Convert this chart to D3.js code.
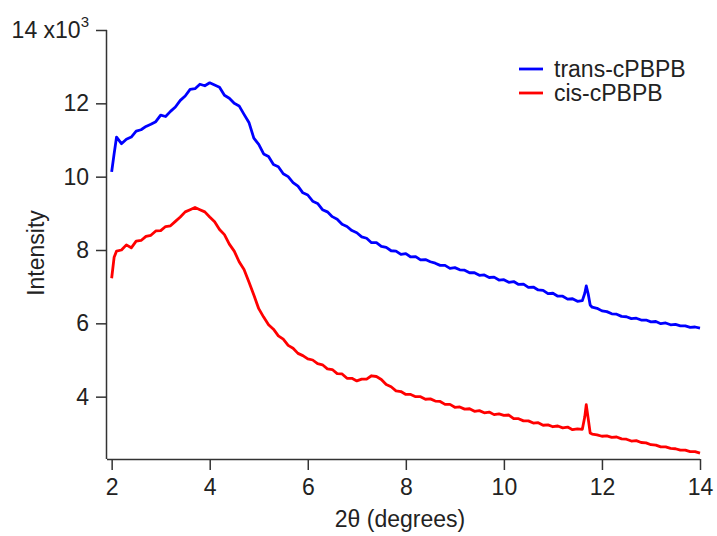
<!DOCTYPE html>
<html>
<head>
<meta charset="utf-8">
<script src="https://cdn.jsdelivr.net/npm/d3@7"></script>
<style>
  html, body { margin: 0; padding: 0; background: #fff; }
  svg { display: block; }
  text { font-family: "Liberation Sans", Arial, Helvetica, sans-serif; fill: #222; }
</style>
</head>
<body>
<svg id="chart" width="717" height="536"></svg>
<script>
// 2θ positions (degrees)
const twoTheta = [
  2.0, 2.05, 2.1, 2.2, 2.3, 2.4, 2.5, 2.6, 2.7, 2.8,
  2.9, 3.0, 3.1, 3.2, 3.3, 3.4, 3.5, 3.6, 3.7, 3.8,
  3.9, 4.0, 4.1, 4.2, 4.3, 4.4, 4.5, 4.6, 4.7, 4.8,
  4.9, 5.0, 5.1, 5.2, 5.3, 5.4, 5.5, 5.6, 5.7, 5.8,
  5.9, 6.0, 6.1, 6.2, 6.3, 6.4, 6.5, 6.6, 6.7, 6.8,
  6.9, 7.0, 7.1, 7.2, 7.3, 7.4, 7.5, 7.6, 7.7, 7.8,
  7.9, 8.0, 8.1, 8.2, 8.3, 8.4, 8.5, 8.6, 8.7, 8.8,
  8.9, 9.0, 9.1, 9.2, 9.3, 9.4, 9.5, 9.6, 9.7, 9.8,
  9.9, 10.0, 10.1, 10.2, 10.3, 10.4, 10.5, 10.6, 10.7, 10.8,
  10.9, 11.0, 11.1, 11.2, 11.3, 11.4, 11.5, 11.6, 11.65, 11.68,
  11.72, 11.76, 11.8, 11.9, 12.0, 12.1, 12.2, 12.3, 12.4, 12.5,
  12.6, 12.7, 12.8, 12.9, 13.0, 13.1, 13.2, 13.3, 13.4, 13.5,
  13.6, 13.7, 13.8, 13.9, 14.0
];

// Intensity (x10^3)
const transCPBPB = [
  10.13, 10.62, 11.08, 10.9, 11.02, 11.08, 11.24, 11.28, 11.37, 11.43,
  11.5, 11.68, 11.64, 11.78, 11.9, 12.08, 12.2, 12.38, 12.4, 12.52,
  12.48, 12.56, 12.5, 12.44, 12.22, 12.14, 12.0, 11.93, 11.7, 11.48,
  11.05, 10.88, 10.62, 10.55, 10.33, 10.27, 10.08, 10.0, 9.84, 9.74,
  9.56, 9.5, 9.33, 9.27, 9.1, 9.04, 8.91, 8.84, 8.7, 8.64,
  8.53, 8.47, 8.36, 8.32, 8.2, 8.2, 8.1, 8.07, 7.98, 7.97,
  7.88, 7.9, 7.81, 7.82, 7.73, 7.74, 7.68, 7.64, 7.58, 7.58,
  7.5, 7.52, 7.46, 7.45, 7.38, 7.38, 7.31, 7.32, 7.25, 7.26,
  7.18, 7.19, 7.12, 7.14, 7.06, 7.07, 6.98, 6.99, 6.91, 6.9,
  6.81, 6.82, 6.74, 6.74, 6.66, 6.67, 6.6, 6.62, 6.82, 7.02,
  6.8, 6.5, 6.44, 6.41, 6.34, 6.32, 6.26, 6.25, 6.19, 6.18,
  6.13, 6.14, 6.09, 6.09, 6.04, 6.05, 5.99, 6.01, 5.96, 5.97,
  5.93, 5.93, 5.89, 5.9, 5.87
];

const cisCPBPB = [
  7.23, 7.8, 7.97, 8.0, 8.14, 8.06, 8.24, 8.26, 8.37, 8.4,
  8.52, 8.53, 8.64, 8.66, 8.78, 8.9, 9.04, 9.1, 9.16, 9.1,
  9.04, 8.9, 8.77, 8.56, 8.42, 8.16, 7.97, 7.68, 7.47, 7.13,
  6.77, 6.4, 6.17, 5.96, 5.84, 5.66, 5.57, 5.4, 5.32, 5.18,
  5.12, 5.03, 5.0, 4.9, 4.87, 4.76, 4.74, 4.63, 4.62, 4.5,
  4.5, 4.43, 4.48, 4.48, 4.57, 4.55, 4.47, 4.33, 4.27, 4.16,
  4.14, 4.06, 4.06, 4.0, 4.0, 3.93, 3.94, 3.88, 3.87, 3.79,
  3.79, 3.71, 3.72, 3.66, 3.67, 3.6, 3.62, 3.56, 3.58, 3.51,
  3.53, 3.49, 3.5, 3.4, 3.4, 3.34, 3.34, 3.28, 3.29, 3.22,
  3.23, 3.18, 3.2, 3.15, 3.17, 3.1, 3.12, 3.11, 3.45, 3.78,
  3.4, 3.01, 2.98, 2.96, 2.92, 2.93, 2.89, 2.9, 2.85, 2.84,
  2.79, 2.8, 2.75, 2.74, 2.69, 2.68, 2.63, 2.63, 2.59, 2.58,
  2.54, 2.54, 2.5, 2.5, 2.46
];

const xTicks = [2, 4, 6, 8, 10, 12, 14];
const yTicks = [4, 6, 8, 10, 12, 14];
const seriesNames = ["trans-cPBPB", "cis-cPBPB"];
const seriesColors = ["#0000ff", "#ff0000"];

const svg = d3.select("#chart");
const plot = { left: 107, right: 700, top: 30, bottom: 459 };

const x = d3.scaleLinear().domain([1.905, 14]).range([plot.left, plot.right]);
const y = d3.scaleLinear().domain([2.3, 14]).range([plot.bottom, plot.top]);

const axisColor = "#333";
const fs = 23;

// X axis
const xAxis = svg.append("g")
  .attr("transform", `translate(0,${plot.bottom})`)
  .call(d3.axisBottom(x).tickValues(xTicks).tickSize(11).tickPadding(9).tickFormat(d3.format("d")));
xAxis.select(".domain").attr("d", `M${plot.left},0.5H${plot.right}`).attr("stroke", axisColor).attr("stroke-width", 1.5);
xAxis.selectAll(".tick line").attr("stroke", axisColor).attr("stroke-width", 1.5);
xAxis.selectAll(".tick text").attr("font-size", fs).attr("fill", "#222")
  .style("font-family", "'Liberation Sans', Arial, sans-serif");

// Y axis
const yAxis = svg.append("g")
  .attr("transform", `translate(${plot.left},0)`)
  .call(d3.axisLeft(y).tickValues(yTicks).tickSize(11).tickPadding(7).tickFormat(d3.format("d")));
yAxis.select(".domain").attr("d", `M-0.5,${plot.top}V${plot.bottom}`).attr("stroke", axisColor).attr("stroke-width", 1.5);
yAxis.selectAll(".tick line").attr("stroke", axisColor).attr("stroke-width", 1.5);
yAxis.selectAll(".tick text").attr("font-size", fs).attr("fill", "#222")
  .style("font-family", "'Liberation Sans', Arial, sans-serif");
// top label carries the multiplier
yAxis.selectAll(".tick text").filter(d => d === 14).each(function(d) {
  const t = d3.select(this);
  t.text(null);
  t.append("tspan").text(d + " x10");
  t.append("tspan").attr("font-size", 15).attr("dy", "-0.7em").text("3");
});

// Lines
const series = [transCPBPB, cisCPBPB];
const line = d3.line()
  .x((d, i) => x(twoTheta[i]))
  .y(d => y(d));

series.forEach((vals, k) => {
  svg.append("path")
    .datum(vals)
    .attr("fill", "none")
    .attr("stroke", seriesColors[k])
    .attr("stroke-width", 2.8)
    .attr("stroke-linejoin", "round")
    .attr("d", line);
});

// Axis titles
svg.append("text")
  .attr("x", 400).attr("y", 527)
  .attr("text-anchor", "middle")
  .attr("font-size", fs)
  .text("2θ (degrees)");

svg.append("text")
  .attr("transform", "translate(44,253) rotate(-90)")
  .attr("text-anchor", "middle")
  .attr("font-size", fs)
  .text("Intensity");

// Legend
const legend = svg.append("g");
seriesNames.forEach((name, k) => {
  const ly = 69 + k * 24;
  legend.append("line")
    .attr("x1", 519).attr("x2", 543)
    .attr("y1", ly).attr("y2", ly)
    .attr("stroke", seriesColors[k]).attr("stroke-width", 2.8);
  legend.append("text")
    .attr("x", 554).attr("y", ly + 8)
    .attr("font-size", fs)
    .text(name);
});
</script>
</body>
</html>
